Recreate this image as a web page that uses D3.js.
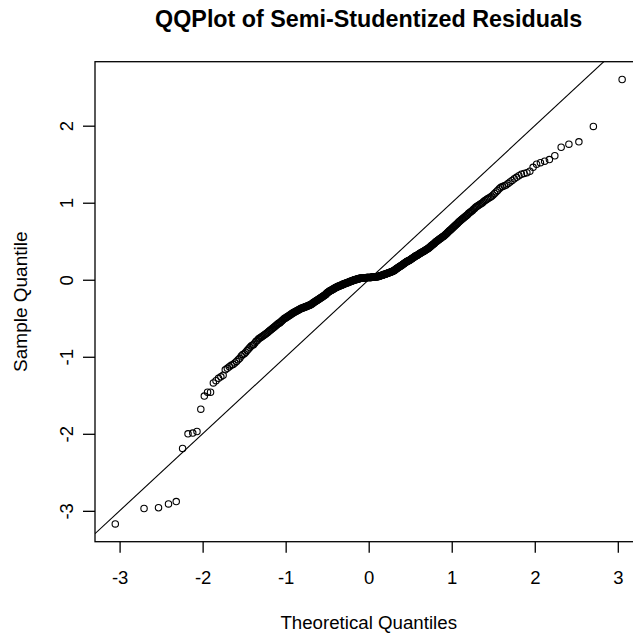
<!DOCTYPE html>
<html><head><meta charset="utf-8">
<script src="https://cdn.jsdelivr.net/npm/d3@7/dist/d3.min.js"></script>
<style>
body{margin:0;background:#fff}
text{font-family:"Liberation Sans",Arial,Helvetica,sans-serif;fill:#000}
</style>
</head><body>
<svg id="chart" width="633" height="633"></svg>
<script>
// Sorted semi-studentized residuals (sample quantiles)
const sampleQuantiles = [
  -3.17,-2.97,-2.96,-2.91,-2.88,-2.19,-2.00,-1.99,-1.97,-1.68,-1.51,-1.46,-1.46,-1.34,-1.31,-1.28,-1.26,-1.24,-1.17,
  -1.15,-1.13,-1.11,-1.10,-1.08,
  -1.06,-1.04,-1.02,-0.99,-0.97,
  -0.96,-0.94,-0.92,-0.90,-0.88,-0.86,
  -0.85,-0.84,-0.82,-0.80,-0.79,-0.77,-0.76,
  -0.75,-0.74,-0.73,-0.72,-0.71,-0.70,-0.69,-0.68,
  -0.67,-0.66,-0.65,-0.64,-0.63,-0.62,-0.61,-0.60,-0.59,
  -0.58,-0.57,-0.56,-0.56,-0.55,-0.54,-0.53,-0.52,-0.51,-0.50,
  -0.50,-0.49,-0.48,-0.48,-0.47,-0.46,-0.46,-0.45,-0.44,-0.44,-0.43,
  -0.43,-0.42,-0.42,-0.41,-0.41,-0.40,-0.40,-0.39,-0.39,-0.38,-0.38,-0.37,-0.37,
  -0.37,-0.36,-0.36,-0.36,-0.35,-0.35,-0.35,-0.34,-0.34,-0.34,-0.33,-0.33,-0.33,
  -0.32,-0.32,-0.31,-0.31,-0.30,-0.30,-0.29,-0.29,-0.28,-0.28,-0.27,-0.27,-0.26,-0.26,
  -0.25,-0.25,-0.24,-0.24,-0.23,-0.23,-0.22,-0.22,-0.21,-0.21,-0.20,-0.20,-0.19,-0.19,-0.18,
  -0.17,-0.17,-0.16,-0.16,-0.15,-0.15,-0.14,-0.14,-0.14,-0.13,-0.13,-0.12,-0.12,-0.12,-0.11,-0.11,
  -0.10,-0.10,-0.10,-0.09,-0.09,-0.09,-0.08,-0.08,-0.08,-0.08,-0.07,-0.07,-0.07,-0.07,-0.06,-0.06,-0.06,
  -0.06,-0.05,-0.05,-0.05,-0.05,-0.04,-0.04,-0.04,-0.04,-0.03,-0.03,-0.03,-0.03,-0.02,-0.02,-0.02,-0.02,
  -0.01,-0.01,-0.01,-0.01,0.00,0.00,0.00,0.00,0.00,0.01,0.01,0.01,0.01,0.01,0.01,0.02,0.02,
  0.02,0.02,0.02,0.02,0.02,0.02,0.02,0.02,0.02,0.025,0.025,0.025,0.025,0.03,0.03,0.03,0.03,0.03,
  0.03,0.03,0.03,0.03,0.03,0.03,0.035,0.035,0.035,0.035,0.035,0.035,0.04,0.04,0.04,0.04,0.04,0.04,
  0.04,0.04,0.045,0.045,0.05,0.05,0.05,0.055,0.055,0.06,0.06,0.06,0.065,0.065,0.07,0.07,0.07,
  0.075,0.075,0.08,0.08,0.085,0.085,0.09,0.09,0.095,0.095,0.10,0.10,0.105,0.105,0.11,0.11,0.115,
  0.12,0.12,0.13,0.13,0.14,0.14,0.15,0.15,0.155,0.16,0.165,0.17,0.175,0.18,0.18,0.185,0.19,
  0.195,0.20,0.205,0.21,0.215,0.22,0.225,0.23,0.235,0.24,0.24,0.245,0.25,0.25,0.255,0.26,
  0.265,0.27,0.275,0.28,0.285,0.29,0.295,0.30,0.305,0.31,0.31,0.315,0.32,0.325,0.33,
  0.335,0.34,0.345,0.35,0.355,0.36,0.36,0.365,0.37,0.375,0.38,0.385,0.39,0.395,
  0.40,0.405,0.41,0.42,0.425,0.43,0.44,0.445,0.45,0.46,0.465,0.47,0.48,
  0.49,0.495,0.50,0.51,0.515,0.52,0.53,0.535,0.54,0.55,0.555,0.56,0.565,
  0.575,0.585,0.59,0.60,0.61,0.62,0.63,0.64,0.645,0.655,0.665,
  0.675,0.685,0.695,0.705,0.715,0.725,0.735,0.745,0.755,0.765,
  0.775,0.785,0.795,0.805,0.815,0.825,0.835,0.845,0.86,
  0.87,0.88,0.89,0.90,0.915,0.925,0.94,0.95,
  0.96,0.97,0.98,0.99,1.00,1.015,1.03,
  1.04,1.05,1.06,1.07,1.085,1.10,
  1.12,1.14,1.16,1.18,1.20,
  1.21,1.22,1.23,1.25,1.27,
  1.29,1.31,1.33,1.35,1.37,1.38,1.39,1.41,1.46,1.50,1.52,1.54,1.56,1.61,1.72,1.76,1.79,1.99,2.60
];
const xTickValues = [-3,-2,-1,0,1,2,3];
const yTickValues = [-3,-2,-1,0,1,2];
const refLine = {intercept: 0, slope: 1};
const titleText = "QQPlot of Semi-Studentized Residuals";
const xLabelText = "Theoretical Quantiles";
const yLabelText = "Sample Quantile";

// inverse normal CDF (Acklam) for the qqnorm theoretical quantiles
function qnorm(p){
  const a=[-3.969683028665376e+01,2.209460984245205e+02,-2.759285104469687e+02,1.383577518672690e+02,-3.066479806614716e+01,2.506628277459239e+00];
  const b=[-5.447609879822406e+01,1.615858368580409e+02,-1.556989798598866e+02,6.680131188771972e+01,-1.328068155288572e+01];
  const c=[-7.784894002430293e-03,-3.223964580411365e-01,-2.400758277161838e+00,-2.549732539343734e+00,4.374664141464968e+00,2.938163982698783e+00];
  const d=[7.784695709041462e-03,3.224671290700398e-01,2.445134137142996e+00,3.754408661907416e+00];
  const pl=0.02425;
  let q,r;
  if(p<pl){q=Math.sqrt(-2*Math.log(p));return (((((c[0]*q+c[1])*q+c[2])*q+c[3])*q+c[4])*q+c[5])/((((d[0]*q+d[1])*q+d[2])*q+d[3])*q+1);}
  if(p<=1-pl){q=p-0.5;r=q*q;return (((((a[0]*r+a[1])*r+a[2])*r+a[3])*r+a[4])*r+a[5])*q/(((((b[0]*r+b[1])*r+b[2])*r+b[3])*r+b[4])*r+1);}
  q=Math.sqrt(-2*Math.log(1-p));return -(((((c[0]*q+c[1])*q+c[2])*q+c[3])*q+c[4])*q+c[5])/((((d[0]*q+d[1])*q+d[2])*q+d[3])*q+1);
}
const n = sampleQuantiles.length;
const aa = n <= 10 ? 3/8 : 0.5;
const points = sampleQuantiles.map((s,i)=>({x:qnorm((i+1-aa)/(n+1-2*aa)), y:s}));

const L=95, T=61.7, B=541.7, R=642.4;
function ext(e){const r=e[1]-e[0];return [e[0]-0.04*r,e[1]+0.04*r];}
const x = d3.scaleLinear().domain(ext(d3.extent(points,d=>d.x))).range([L,R]);
const y = d3.scaleLinear().domain(ext(d3.extent(points,d=>d.y))).range([B,T]);
const fmt = d => String(d);

const svg = d3.select("#chart");
svg.append("defs").append("clipPath").attr("id","clip")
  .append("rect").attr("x",L).attr("y",T).attr("width",R-L).attr("height",B-T);

// reference line
const xd = x.domain();
svg.append("line").attr("clip-path","url(#clip)")
  .attr("x1",x(xd[0])).attr("y1",y(refLine.intercept+refLine.slope*xd[0]))
  .attr("x2",x(xd[1])).attr("y2",y(refLine.intercept+refLine.slope*xd[1]))
  .attr("stroke","#000").attr("stroke-width",1.1);

// points
svg.append("g").selectAll("circle").data(points).join("circle")
  .attr("cx",d=>x(d.x)).attr("cy",d=>y(d.y)).attr("r",3.2)
  .attr("fill","none").attr("stroke","#000").attr("stroke-width",1.1);

// box
svg.append("rect").attr("x",L).attr("y",T).attr("width",R-L).attr("height",B-T)
  .attr("fill","none").attr("stroke","#000").attr("stroke-width",1.3);

// x axis
const xa = svg.append("g").attr("transform",`translate(0,${B})`)
  .call(d3.axisBottom(x).tickValues(xTickValues).tickSize(11).tickPadding(0).tickFormat(fmt));
xa.select(".domain").remove();
xa.selectAll(".tick line").attr("stroke","#000").attr("stroke-width",1.3);
xa.selectAll(".tick text").attr("font-size",18.5).attr("dy",null).attr("y",42.5)
  .style("font-family","'Liberation Sans',Arial,sans-serif");

// y axis
const ya = svg.append("g").attr("transform",`translate(${L},0)`)
  .call(d3.axisLeft(y).tickValues(yTickValues).tickSize(12).tickPadding(0).tickFormat(fmt));
ya.select(".domain").remove();
ya.selectAll(".tick line").attr("stroke","#000").attr("stroke-width",1.3);
ya.selectAll(".tick text").attr("font-size",18.5).attr("dy",null).attr("x",null)
  .attr("text-anchor","middle").attr("transform","translate(-22,0) rotate(-90)")
  .style("font-family","'Liberation Sans',Arial,sans-serif");

// labels
const cx = (L+R)/2;
svg.append("text").attr("x",cx).attr("y",27).attr("text-anchor","middle")
  .attr("font-size",23.3).attr("font-weight","bold").text(titleText);
svg.append("text").attr("x",cx).attr("y",629).attr("text-anchor","middle")
  .attr("font-size",18.7).text(xLabelText);
svg.append("text").attr("transform",`translate(27.3,${(T+B)/2}) rotate(-90)`).attr("text-anchor","middle")
  .attr("font-size",19).text(yLabelText);
</script>
</body></html>
